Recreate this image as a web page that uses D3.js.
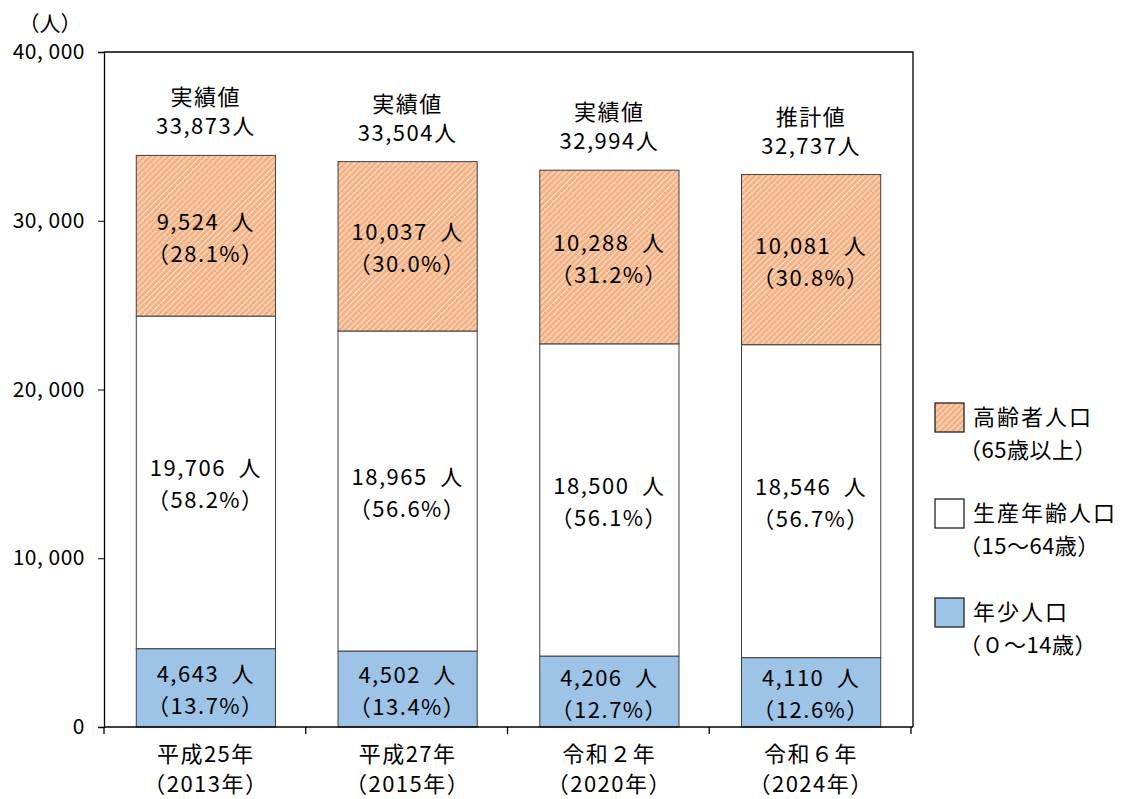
<!DOCTYPE html>
<html>
<head>
<meta charset="utf-8">
<script src="https://cdn.jsdelivr.net/npm/d3@7"></script>
<style>
  body { margin: 0; background: #fff; }
  text { font-family: "Noto Sans CJK JP", "Noto Sans", sans-serif; fill: #000; }
</style>
</head>
<body>
<div id="chart"></div>
<script>
const categories = ['平成25年', '平成27年', '令和２年', '令和６年'];
const years = ['（2013年）', '（2015年）', '（2020年）', '（2024年）'];
const kinds = ['実績値', '実績値', '実績値', '推計値'];
const young = [4643, 4502, 4206, 4110];
const working = [19706, 18965, 18500, 18546];
const elderly = [9524, 10037, 10288, 10081];
const youngPct = [13.7, 13.4, 12.7, 12.6];
const workingPct = [58.2, 56.6, 56.1, 56.7];
const elderlyPct = [28.1, 30.0, 31.2, 30.8];
const totals = [33873, 33504, 32994, 32737];
const yTicks = [0, 10000, 20000, 30000, 40000];

const chartWidth = 1127;
const chartHeight = 799;
const plotLeft = 104, plotRight = 913, plotTop = 52, plotBottom = 727;

const svg = d3.select('#chart')
    .append('svg')
    .attr('width', chartWidth)
    .attr('height', chartHeight);

// hatch for elderly segment
const defs = svg.append('defs');
const pat = defs.append('pattern')
    .attr('id', 'hatch')
    .attr('patternUnits', 'userSpaceOnUse')
    .attr('width', 4.2)
    .attr('height', 4.2)
    .attr('patternTransform', 'rotate(45)');
pat.append('rect').attr('width', 4.2).attr('height', 4.2).attr('fill', '#F4B183');
pat.append('rect').attr('x', 0).attr('width', 1.1).attr('height', 4.2).attr('fill', '#FBE2D0');

const x = d3.scaleBand()
    .domain(categories)
    .range([plotLeft, plotRight])
    .paddingInner(0.31)
    .paddingOuter(0.16);

const y = d3.scaleLinear()
    .domain([0, 40000])
    .range([plotBottom, plotTop]);

const fmt = d3.format(',');
const cx = c => x(c) + x.bandwidth() / 2;

const stackData = categories.map((c, i) => ({
    cat: c, young: young[i], working: working[i], elderly: elderly[i]
}));
const series = d3.stack().keys(['young', 'working', 'elderly'])(stackData);
const fills = { young: '#9DC3E6', working: '#FFFFFF', elderly: 'url(#hatch)' };
const pcts = { young: youngPct, working: workingPct, elderly: elderlyPct };

// frame top/right
svg.append('path')
    .attr('d', `M${plotLeft},${plotTop}H${plotRight}V${plotBottom}`)
    .attr('fill', 'none')
    .attr('stroke', '#000')
    .attr('stroke-width', 1.3);

series.forEach(s => {
    const g = svg.append('g');
    g.selectAll('rect')
        .data(s)
        .enter()
        .append('rect')
        .attr('x', d => x(d.data.cat))
        .attr('width', x.bandwidth())
        .attr('y', d => y(d[1]))
        .attr('height', d => y(d[0]) - y(d[1]))
        .attr('fill', fills[s.key])
        .attr('stroke', '#404040')
        .attr('stroke-width', 1);

    const t = g.selectAll('text.val')
        .data(s)
        .enter()
        .append('text')
        .attr('text-anchor', 'middle')
        .attr('font-size', 22)
        .attr('letter-spacing', 1.5);
    t.append('tspan')
        .attr('x', d => cx(d.data.cat))
        .attr('y', d => (y(d[0]) + y(d[1])) / 2 - 6)
        .text(d => fmt(d.data[s.key]) + '\u2002人');
    t.append('tspan')
        .attr('x', d => cx(d.data.cat))
        .attr('y', d => (y(d[0]) + y(d[1])) / 2 + 26)
        .text((d, i) => '（' + pcts[s.key][i].toFixed(1) + '%）');
});

// totals above bars
const tot = svg.append('g')
    .selectAll('text')
    .data(categories)
    .enter()
    .append('text')
    .attr('text-anchor', 'middle')
    .attr('font-size', 22)
    .attr('letter-spacing', 1.5);
tot.append('tspan')
    .attr('x', cx)
    .attr('y', (d, i) => y(totals[i]) - 50)
    .text((d, i) => kinds[i]);
tot.append('tspan')
    .attr('x', cx)
    .attr('y', (d, i) => y(totals[i]) - 21)
    .text((d, i) => fmt(totals[i]) + '人');

// y axis
const yAxis = d3.axisLeft(y)
    .tickValues(yTicks)
    .tickSize(6)
    .tickFormat(d => d === 0 ? '0' : fmt(d).replace(',', ', '));

svg.append('g')
    .attr('class', 'y-axis')
    .attr('transform', 'translate(' + plotLeft + ',0)')
    .call(yAxis)
    .call(g => g.select('.domain').attr('stroke-width', 1.3))
    .call(g => g.selectAll('text')
        .attr('font-size', 21)
        .attr('x', -19)
        .attr('letter-spacing', 0.5)
        .style('font-family', '"Noto Sans CJK JP", sans-serif'));

svg.append('text')
    .attr('x', 50)
    .attr('y', 31)
    .attr('text-anchor', 'middle')
    .attr('font-size', 21)
    .text('（人）');

// x axis
svg.append('line')
    .attr('x1', plotLeft).attr('x2', plotRight)
    .attr('y1', plotBottom).attr('y2', plotBottom)
    .attr('stroke', '#000').attr('stroke-width', 1.6);

const step = x.step();
svg.append('g')
    .selectAll('line')
    .data(d3.range(categories.length + 1))
    .enter()
    .append('line')
    .attr('x1', d => plotLeft + d * step)
    .attr('x2', d => plotLeft + d * step)
    .attr('y1', plotBottom)
    .attr('y2', plotBottom + 7)
    .attr('stroke', '#000')
    .attr('stroke-width', 1.3);

const xl = svg.append('g')
    .selectAll('text')
    .data(categories)
    .enter()
    .append('text')
    .attr('text-anchor', 'middle')
    .attr('font-size', 22)
    .attr('letter-spacing', 1.5);
xl.append('tspan')
    .attr('x', cx)
    .attr('y', 762)
    .text(d => d);
xl.append('tspan')
    .attr('x', cx)
    .attr('y', 792)
    .text((d, i) => years[i]);

// legend
const legend = [
    { fill: 'url(#hatch)', l1: '高齢者人口', l2: '（65歳以上）', y: 403 },
    { fill: '#FFFFFF', l1: '生産年齢人口', l2: '（15～64歳）', y: 499 },
    { fill: '#9DC3E6', l1: '年少人口', l2: '（０～14歳）', y: 598 }
];
const lg = svg.append('g')
    .selectAll('g')
    .data(legend)
    .enter()
    .append('g')
    .attr('transform', d => 'translate(935,' + d.y + ')');
lg.append('rect')
    .attr('width', 29)
    .attr('height', 29)
    .attr('fill', d => d.fill)
    .attr('stroke', '#222')
    .attr('stroke-width', 1.3);
lg.append('text')
    .attr('x', 38)
    .attr('y', 22)
    .attr('font-size', 22)
    .attr('letter-spacing', 2)
    .text(d => d.l1);
lg.append('text')
    .attr('x', 24)
    .attr('y', 55)
    .attr('font-size', 22)
    .attr('letter-spacing', 0.5)
    .text(d => d.l2);
</script>
</body>
</html>
